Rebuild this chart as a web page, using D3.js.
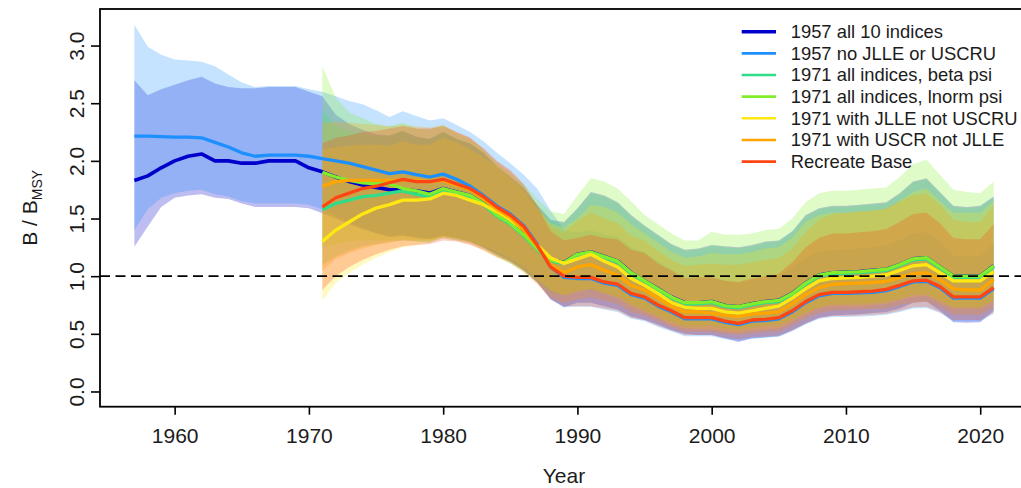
<!DOCTYPE html>
<html>
<head>
<meta charset="utf-8">
<script src="https://cdn.jsdelivr.net/npm/d3@7"></script>
<style>
  html, body { margin: 0; padding: 0; background: #ffffff; }
  svg { display: block; font-family: "Liberation Sans", Arial, sans-serif; }
</style>
</head>
<body>
<svg id="chart" width="1021" height="488"></svg>
<script>
// ---- Years ----
const yearsFrom1957 = d3.range(1957, 2022);
const yearsFrom1971 = d3.range(1971, 2022);

// ---- 1957 all 10 indices ----
const all10_1957 = [1.83, 1.87, 1.94, 2.00, 2.04, 2.06, 2.00, 2.00, 1.98, 1.98, 2.00, 2.00, 2.00, 1.94, 1.905,
  1.86, 1.82, 1.79, 1.77, 1.75, 1.75, 1.74, 1.72, 1.76, 1.73, 1.70, 1.63, 1.53, 1.46, 1.36, 1.24, 1.14, 1.12, 1.19,
  1.21, 1.17, 1.13, 1.03, 0.96, 0.89, 0.82, 0.77, 0.77, 0.78, 0.745, 0.735, 0.76, 0.78, 0.79, 0.85, 0.94, 1.01, 1.03, 1.035,
  1.04, 1.05, 1.06, 1.10, 1.15, 1.16, 1.08, 1.00, 1.00, 1.00, 1.09];
const all10_1957_hi = [2.70, 2.57, 2.62, 2.66, 2.70, 2.73, 2.67, 2.64, 2.63, 2.63, 2.64, 2.64, 2.64, 2.60, 2.56,
  2.40, 2.32, 2.27, 2.23, 2.22, 2.26, 2.21, 2.19, 2.25, 2.19, 2.15, 2.07, 1.95, 1.86, 1.76, 1.62, 1.49, 1.47, 1.59,
  1.73, 1.70, 1.64, 1.53, 1.44, 1.36, 1.28, 1.23, 1.24, 1.27, 1.26, 1.25, 1.27, 1.30, 1.31, 1.39, 1.53, 1.59, 1.61, 1.61,
  1.62, 1.63, 1.64, 1.72, 1.82, 1.85, 1.73, 1.61, 1.60, 1.61, 1.69];
const all10_1957_lo = [1.255, 1.43, 1.60, 1.68, 1.70, 1.71, 1.68, 1.67, 1.63, 1.60, 1.60, 1.60, 1.60, 1.59, 1.545,
  1.50, 1.45, 1.41, 1.37, 1.34, 1.35, 1.33, 1.32, 1.35, 1.33, 1.30, 1.25, 1.19, 1.13, 1.05, 0.95, 0.80, 0.73, 0.77,
  0.77, 0.74, 0.71, 0.65, 0.62, 0.58, 0.53, 0.50, 0.49, 0.49, 0.46, 0.43, 0.46, 0.47, 0.48, 0.53, 0.59, 0.64, 0.66, 0.665,
  0.67, 0.68, 0.69, 0.72, 0.77, 0.78, 0.70, 0.60, 0.595, 0.60, 0.70];

// ---- 1957 no JLLE or USCRU ----
const noJlle_1957 = [2.215, 2.215, 2.21, 2.205, 2.205, 2.20, 2.16, 2.12, 2.07, 2.04, 2.05, 2.05, 2.05, 2.04, 2.02,
  2.00, 1.98, 1.95, 1.92, 1.89, 1.905, 1.88, 1.86, 1.885, 1.84, 1.78, 1.70, 1.61, 1.54, 1.44, 1.28, 1.08, 0.99, 0.98,
  0.98, 0.94, 0.92, 0.84, 0.81, 0.74, 0.69, 0.63, 0.63, 0.63, 0.60, 0.58, 0.61, 0.615, 0.63, 0.69, 0.77, 0.83, 0.85, 0.85,
  0.855, 0.86, 0.875, 0.91, 0.95, 0.955, 0.90, 0.81, 0.81, 0.81, 0.89];
const noJlle_1957_hi = [3.18, 2.99, 2.92, 2.88, 2.87, 2.86, 2.82, 2.75, 2.68, 2.64, 2.65, 2.65, 2.65, 2.62, 2.60,
  2.56, 2.52, 2.49, 2.44, 2.38, 2.43, 2.39, 2.35, 2.37, 2.31, 2.25, 2.17, 2.07, 1.98, 1.88, 1.76, 1.57, 1.40, 1.38,
  1.40, 1.36, 1.34, 1.25, 1.21, 1.13, 1.06, 0.99, 0.99, 0.99, 0.96, 0.94, 0.97, 0.98, 1.00, 1.08, 1.16, 1.21, 1.23, 1.23,
  1.24, 1.25, 1.27, 1.31, 1.37, 1.38, 1.30, 1.18, 1.17, 1.17, 1.29];
const noJlle_1957_lo = [1.40, 1.58, 1.68, 1.72, 1.74, 1.75, 1.71, 1.69, 1.65, 1.63, 1.63, 1.63, 1.63, 1.62, 1.58,
  1.52, 1.47, 1.42, 1.38, 1.35, 1.36, 1.34, 1.33, 1.35, 1.33, 1.30, 1.25, 1.19, 1.14, 1.06, 0.95, 0.80, 0.73, 0.735,
  0.735, 0.71, 0.69, 0.63, 0.61, 0.56, 0.52, 0.48, 0.48, 0.48, 0.455, 0.44, 0.46, 0.465, 0.475, 0.52, 0.58, 0.63, 0.645, 0.645,
  0.65, 0.655, 0.665, 0.69, 0.72, 0.725, 0.68, 0.61, 0.61, 0.61, 0.675];

// ---- 1971 all indices, beta psi ----
const betaPsi_1971 = [1.575, 1.63, 1.66, 1.69, 1.70, 1.72, 1.74, 1.71, 1.69, 1.74,
  1.71, 1.69, 1.62, 1.52, 1.45, 1.35, 1.23, 1.13, 1.11, 1.18,
  1.20, 1.16, 1.12, 1.02, 0.95, 0.88, 0.81, 0.76, 0.76, 0.77,
  0.735, 0.725, 0.75, 0.77, 0.78, 0.84, 0.93, 1.00, 1.02, 1.025,
  1.03, 1.04, 1.05, 1.09, 1.14, 1.15, 1.07, 0.99, 0.99, 0.99, 1.08];
const betaPsi_1971_hi = [2.45, 2.30, 2.26, 2.24, 2.21, 2.22, 2.26, 2.21, 2.19, 2.25,
  2.19, 2.15, 2.07, 1.95, 1.86, 1.76, 1.61, 1.48, 1.46, 1.58,
  1.72, 1.69, 1.63, 1.52, 1.43, 1.35, 1.27, 1.22, 1.23, 1.26,
  1.25, 1.24, 1.26, 1.29, 1.30, 1.38, 1.52, 1.58, 1.60, 1.60,
  1.61, 1.62, 1.63, 1.71, 1.81, 1.84, 1.72, 1.60, 1.59, 1.60, 1.68];
const betaPsi_1971_lo = [1.10, 1.17, 1.22, 1.26, 1.28, 1.30, 1.31, 1.30, 1.29, 1.33,
  1.31, 1.29, 1.24, 1.17, 1.11, 1.04, 0.95, 0.86, 0.83, 0.87,
  0.88, 0.85, 0.82, 0.75, 0.70, 0.65, 0.60, 0.56, 0.56, 0.565,
  0.54, 0.53, 0.55, 0.565, 0.57, 0.62, 0.68, 0.73, 0.75, 0.75,
  0.755, 0.76, 0.77, 0.80, 0.835, 0.84, 0.78, 0.725, 0.725, 0.725, 0.79];

// ---- 1971 all indices, lnorm psi ----
const lnormPsi_1971 = [1.90, 1.86, 1.83, 1.81, 1.80, 1.80, 1.76, 1.74, 1.71, 1.76,
  1.73, 1.70, 1.63, 1.53, 1.46, 1.36, 1.24, 1.14, 1.12, 1.19,
  1.21, 1.17, 1.13, 1.03, 0.96, 0.89, 0.82, 0.77, 0.77, 0.78,
  0.745, 0.735, 0.76, 0.78, 0.79, 0.85, 0.94, 1.01, 1.03, 1.035,
  1.04, 1.05, 1.06, 1.10, 1.15, 1.16, 1.08, 1.00, 1.00, 1.00, 1.09];
const lnormPsi_1971_hi = [2.82, 2.55, 2.42, 2.37, 2.32, 2.30, 2.33, 2.28, 2.27, 2.31,
  2.24, 2.19, 2.10, 1.98, 1.89, 1.80, 1.67, 1.56, 1.54, 1.70,
  1.85, 1.82, 1.76, 1.65, 1.53, 1.45, 1.37, 1.31, 1.31, 1.385,
  1.36, 1.36, 1.37, 1.40, 1.41, 1.50, 1.64, 1.72, 1.74, 1.74,
  1.75, 1.76, 1.77, 1.86, 1.97, 2.01, 1.88, 1.75, 1.73, 1.72, 1.82];
const lnormPsi_1971_lo = [1.25, 1.28, 1.30, 1.31, 1.31, 1.31, 1.32, 1.30, 1.30, 1.34,
  1.32, 1.30, 1.25, 1.18, 1.12, 1.05, 0.96, 0.87, 0.84, 0.88,
  0.89, 0.86, 0.83, 0.76, 0.71, 0.66, 0.61, 0.57, 0.57, 0.575,
  0.55, 0.54, 0.56, 0.575, 0.58, 0.63, 0.69, 0.74, 0.76, 0.76,
  0.765, 0.77, 0.78, 0.81, 0.845, 0.85, 0.79, 0.735, 0.735, 0.735, 0.80];

// ---- 1971 with JLLE not USCRU ----
const jlle_1971 = [1.30, 1.40, 1.47, 1.54, 1.59, 1.62, 1.66, 1.66, 1.67, 1.72,
  1.70, 1.66, 1.62, 1.56, 1.49, 1.40, 1.27, 1.16, 1.11, 1.15,
  1.19, 1.13, 1.08, 0.98, 0.92, 0.85, 0.77, 0.73, 0.72, 0.72,
  0.69, 0.68, 0.70, 0.72, 0.74, 0.81, 0.89, 0.96, 0.98, 0.985,
  0.99, 1.00, 1.01, 1.05, 1.09, 1.10, 1.03, 0.96, 0.96, 0.96, 1.04];
const jlle_1971_hi = [2.10, 2.12, 2.13, 2.14, 2.14, 2.13, 2.17, 2.14, 2.14, 2.20,
  2.16, 2.10, 2.03, 1.95, 1.85, 1.74, 1.59, 1.46, 1.42, 1.50,
  1.62, 1.60, 1.55, 1.45, 1.37, 1.29, 1.21, 1.16, 1.17, 1.20,
  1.19, 1.19, 1.21, 1.24, 1.25, 1.33, 1.47, 1.53, 1.55, 1.55,
  1.56, 1.57, 1.58, 1.65, 1.73, 1.76, 1.65, 1.55, 1.55, 1.55, 1.65];
const jlle_1971_lo = [0.79, 0.94, 1.03, 1.10, 1.16, 1.21, 1.25, 1.27, 1.29, 1.34,
  1.33, 1.30, 1.26, 1.21, 1.15, 1.08, 0.98, 0.88, 0.83, 0.86,
  0.89, 0.85, 0.81, 0.74, 0.69, 0.64, 0.58, 0.55, 0.54, 0.54,
  0.52, 0.51, 0.53, 0.54, 0.55, 0.61, 0.67, 0.72, 0.74, 0.74,
  0.74, 0.75, 0.76, 0.79, 0.82, 0.83, 0.77, 0.72, 0.72, 0.72, 0.78];

// ---- 1971 with USCR not JLLE ----
const uscr_1971 = [1.78, 1.82, 1.83, 1.83, 1.83, 1.83, 1.83, 1.83, 1.82, 1.83,
  1.79, 1.75, 1.67, 1.58, 1.51, 1.40, 1.26, 1.10, 1.03, 1.08,
  1.10, 1.05, 1.01, 0.92, 0.88, 0.81, 0.74, 0.69, 0.69, 0.68,
  0.66, 0.65, 0.67, 0.68, 0.69, 0.76, 0.84, 0.90, 0.93, 0.935,
  0.94, 0.945, 0.955, 0.99, 1.02, 1.03, 0.97, 0.89, 0.88, 0.88, 0.97];
const uscr_1971_hi = [2.33, 2.34, 2.33, 2.32, 2.31, 2.30, 2.31, 2.30, 2.29, 2.31,
  2.25, 2.20, 2.10, 1.99, 1.91, 1.78, 1.62, 1.44, 1.38, 1.48,
  1.55, 1.50, 1.46, 1.35, 1.31, 1.22, 1.14, 1.09, 1.10, 1.11,
  1.10, 1.10, 1.12, 1.14, 1.16, 1.24, 1.38, 1.49, 1.54, 1.55,
  1.56, 1.57, 1.59, 1.65, 1.70, 1.72, 1.62, 1.49, 1.47, 1.47, 1.61];
const uscr_1971_lo = [1.05, 1.15, 1.20, 1.24, 1.27, 1.29, 1.31, 1.31, 1.31, 1.33,
  1.31, 1.28, 1.22, 1.16, 1.11, 1.03, 0.93, 0.82, 0.77, 0.80,
  0.82, 0.79, 0.76, 0.69, 0.66, 0.61, 0.56, 0.52, 0.52, 0.515,
  0.50, 0.49, 0.505, 0.515, 0.52, 0.575, 0.635, 0.68, 0.70, 0.705,
  0.71, 0.715, 0.72, 0.75, 0.77, 0.78, 0.73, 0.67, 0.665, 0.665, 0.73];

// ---- Recreate Base ----
const recreate_1971 = [1.60, 1.68, 1.72, 1.76, 1.78, 1.81, 1.84, 1.82, 1.82, 1.84,
  1.80, 1.76, 1.69, 1.60, 1.53, 1.43, 1.27, 1.08, 1.00, 0.99,
  0.99, 0.95, 0.93, 0.85, 0.82, 0.75, 0.70, 0.64, 0.64, 0.64,
  0.61, 0.59, 0.62, 0.625, 0.64, 0.70, 0.78, 0.84, 0.86, 0.86,
  0.865, 0.87, 0.885, 0.92, 0.96, 0.965, 0.91, 0.82, 0.82, 0.82, 0.90];
const recreate_1971_hi = [2.15, 2.20, 2.22, 2.25, 2.26, 2.28, 2.30, 2.28, 2.28, 2.30,
  2.25, 2.20, 2.11, 2.00, 1.92, 1.80, 1.61, 1.39, 1.31, 1.33,
  1.36, 1.33, 1.32, 1.23, 1.20, 1.11, 1.05, 0.98, 0.99, 0.99,
  0.96, 0.95, 0.98, 1.00, 1.02, 1.12, 1.25, 1.33, 1.37, 1.37,
  1.38, 1.39, 1.41, 1.47, 1.54, 1.55, 1.46, 1.33, 1.32, 1.32, 1.45];
const recreate_1971_lo = [0.88, 1.00, 1.08, 1.14, 1.19, 1.23, 1.26, 1.27, 1.28, 1.31,
  1.30, 1.27, 1.23, 1.17, 1.12, 1.05, 0.94, 0.80, 0.74, 0.74,
  0.74, 0.72, 0.70, 0.64, 0.62, 0.57, 0.53, 0.49, 0.49, 0.49,
  0.465, 0.45, 0.47, 0.475, 0.485, 0.53, 0.59, 0.64, 0.655, 0.655,
  0.66, 0.665, 0.675, 0.70, 0.73, 0.735, 0.69, 0.62, 0.62, 0.62, 0.685];

// ---- Labels and axis ticks ----
const seriesNames = ["1957 all 10 indices", "1957 no JLLE or USCRU", "1971 all indices, beta psi",
  "1971 all indices, lnorm psi", "1971 with JLLE not USCRU", "1971 with USCR not JLLE", "Recreate Base"];
const seriesColors = ["#0000cd", "#1e8fff", "#2fdd88", "#80ee2a", "#ffe812", "#ffa500", "#ff4612"];
const xTicks = [1960, 1970, 1980, 1990, 2000, 2010, 2020];
const yTicks = [0, 0.5, 1, 1.5, 2, 2.5, 3];
const refLevel = 1.0;

const series = [
  { years: yearsFrom1957, mid: all10_1957, lo: all10_1957_lo, hi: all10_1957_hi, lw: 3.6 },
  { years: yearsFrom1957, mid: noJlle_1957, lo: noJlle_1957_lo, hi: noJlle_1957_hi, lw: 3.3 },
  { years: yearsFrom1971, mid: betaPsi_1971, lo: betaPsi_1971_lo, hi: betaPsi_1971_hi, lw: 3.3 },
  { years: yearsFrom1971, mid: lnormPsi_1971, lo: lnormPsi_1971_lo, hi: lnormPsi_1971_hi, lw: 3.3 },
  { years: yearsFrom1971, mid: jlle_1971, lo: jlle_1971_lo, hi: jlle_1971_hi, lw: 3.3 },
  { years: yearsFrom1971, mid: uscr_1971, lo: uscr_1971_lo, hi: uscr_1971_hi, lw: 3.3 },
  { years: yearsFrom1971, mid: recreate_1971, lo: recreate_1971_lo, hi: recreate_1971_hi, lw: 3.3 }
].map((s, i) => ({
  ...s, name: seriesNames[i], color: seriesColors[i],
  rows: s.years.map((yr, j) => ({ yr, mid: s.mid[j], lo: s.lo[j], hi: s.hi[j] }))
}));

// ---- Layout ----
const plot = { left: 100, right: 1028, top: 9, bottom: 406.7 };
const svg = d3.select("#chart");
svg.append("rect").attr("width", 1021).attr("height", 488).attr("fill", "#fff");

const x = d3.scaleLinear().domain([1954.44, 2023.56]).range([plot.left, plot.right]);
const y = d3.scaleLinear().domain([-0.132, 3.317]).range([plot.bottom, plot.top]);

svg.append("clipPath").attr("id", "plotclip")
  .append("rect").attr("x", plot.left).attr("y", plot.top)
  .attr("width", plot.right - plot.left).attr("height", plot.bottom - plot.top);

const g = svg.append("g").attr("clip-path", "url(#plotclip)");

// Confidence ribbons
const area = d3.area().x(d => x(d.yr)).y0(d => y(d.lo)).y1(d => y(d.hi));
series.forEach(s => {
  g.append("path").datum(s.rows).attr("d", area)
    .attr("fill", s.color).attr("fill-opacity", 0.26).attr("stroke", "none");
});

// Median trajectories
const line = d3.line().x(d => x(d.yr)).y(d => y(d.mid));
series.forEach(s => {
  g.append("path").datum(s.rows).attr("d", line)
    .attr("fill", "none").attr("stroke", s.color).attr("stroke-width", s.lw)
    .attr("stroke-linejoin", "round");
});

// Reference line at B/BMSY = 1
g.append("line")
  .attr("x1", plot.left).attr("x2", plot.right)
  .attr("y1", y(refLevel)).attr("y2", y(refLevel))
  .attr("stroke", "#000").attr("stroke-width", 1.8).attr("stroke-dasharray", "10,5.5");

// Axes
const textColor = "#1c1c1c";
const yAxis = svg.append("g").attr("transform", `translate(${plot.left},0)`)
  .call(d3.axisLeft(y).tickValues(yTicks).tickSize(9).tickFormat(d3.format(".1f")));
yAxis.select(".domain").remove();
yAxis.selectAll(".tick line").attr("stroke", "#000").attr("stroke-width", 1.6);
yAxis.selectAll(".tick text")
  .attr("transform", "rotate(-90)").attr("x", 0).attr("y", -16.5).attr("dy", 0)
  .attr("text-anchor", "middle").attr("fill", textColor)
  .style("font-size", "21px").style("font-family", "'Liberation Sans', Arial, sans-serif");

const xAxis = svg.append("g").attr("transform", `translate(0,${plot.bottom})`)
  .call(d3.axisBottom(x).tickValues(xTicks).tickSize(8).tickFormat(d3.format("d")));
xAxis.select(".domain").remove();
xAxis.selectAll(".tick line").attr("stroke", "#000").attr("stroke-width", 1.6);
xAxis.selectAll(".tick text")
  .attr("y", 36.6).attr("dy", 0).attr("fill", textColor)
  .style("font-size", "21px").style("font-family", "'Liberation Sans', Arial, sans-serif");

// Plot frame
svg.append("rect")
  .attr("x", plot.left).attr("y", plot.top)
  .attr("width", plot.right - plot.left).attr("height", plot.bottom - plot.top)
  .attr("fill", "none").attr("stroke", "#000").attr("stroke-width", 1.8);

// Axis titles
svg.append("text").attr("x", (plot.left + plot.right) / 2).attr("y", 483)
  .attr("text-anchor", "middle").attr("fill", textColor).style("font-size", "21px").text("Year");

const yTitle = svg.append("text")
  .attr("transform", `translate(37,${(plot.top + plot.bottom) / 2}) rotate(-90)`)
  .attr("text-anchor", "middle").attr("fill", textColor).style("font-size", "21px");
yTitle.append("tspan").text("B / B");
yTitle.append("tspan").attr("dy", 4.5).style("font-size", "14px").text("MSY");

// Legend
const legend = svg.append("g");
series.forEach((s, i) => {
  const ly = 31.7 + i * 21.65;
  legend.append("line").attr("x1", 741.7).attr("x2", 776).attr("y1", ly).attr("y2", ly)
    .attr("stroke", s.color).attr("stroke-width", i === 0 ? 3.4 : 2.6);
  legend.append("text").attr("x", 790.7).attr("y", ly).attr("dy", "0.35em")
    .attr("fill", textColor).style("font-size", "18.4px").text(s.name);
});
</script>
</body>
</html>
